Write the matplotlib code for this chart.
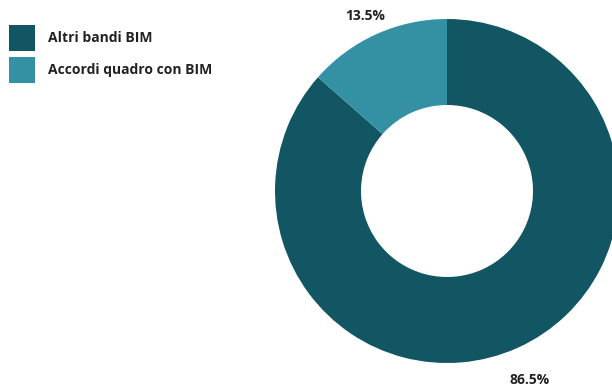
import matplotlib
matplotlib.use('Agg')
import matplotlib.pyplot as plt
from matplotlib.patches import Patch

plt.rcParams['font.family'] = ['Open Sans', 'DejaVu Sans']

labels = ['Altri bandi BIM', 'Accordi quadro con BIM']
values = [86.5, 13.5]
colors = ['#115662', '#3391a3']

fig = plt.figure(figsize=(6.12, 3.86), dpi=100)
ax = fig.add_axes([275/612, 23/386, 344/612, 344/386])

wedges, texts, autotexts = ax.pie(values, colors=colors, startangle=90,
	counterclock=False, radius=1,
	wedgeprops=dict(width=0.5, linewidth=0),
	autopct='%.1f%%', pctdistance=1.16,
	textprops=dict(fontsize=10, fontweight='bold', color='#222222'))
for t in autotexts:
	t.set_va('top')
ax.set_xlim(-1, 1)
ax.set_ylim(-1, 1)
ax.set_aspect('equal')
ax.axis('off')

handles = [Patch(facecolor=c, edgecolor='none') for c in colors]
fig.legend(handles, labels, loc='upper left',
	bbox_to_anchor=(9/612, 1 - 25/386), borderaxespad=0, borderpad=0,
	frameon=False, prop=dict(size=10, weight='bold'),
	handlelength=1.87, handleheight=2.5, handletextpad=0.93,
	labelspacing=0.43, labelcolor='#222222')

plt.savefig('out.png', dpi=100)
